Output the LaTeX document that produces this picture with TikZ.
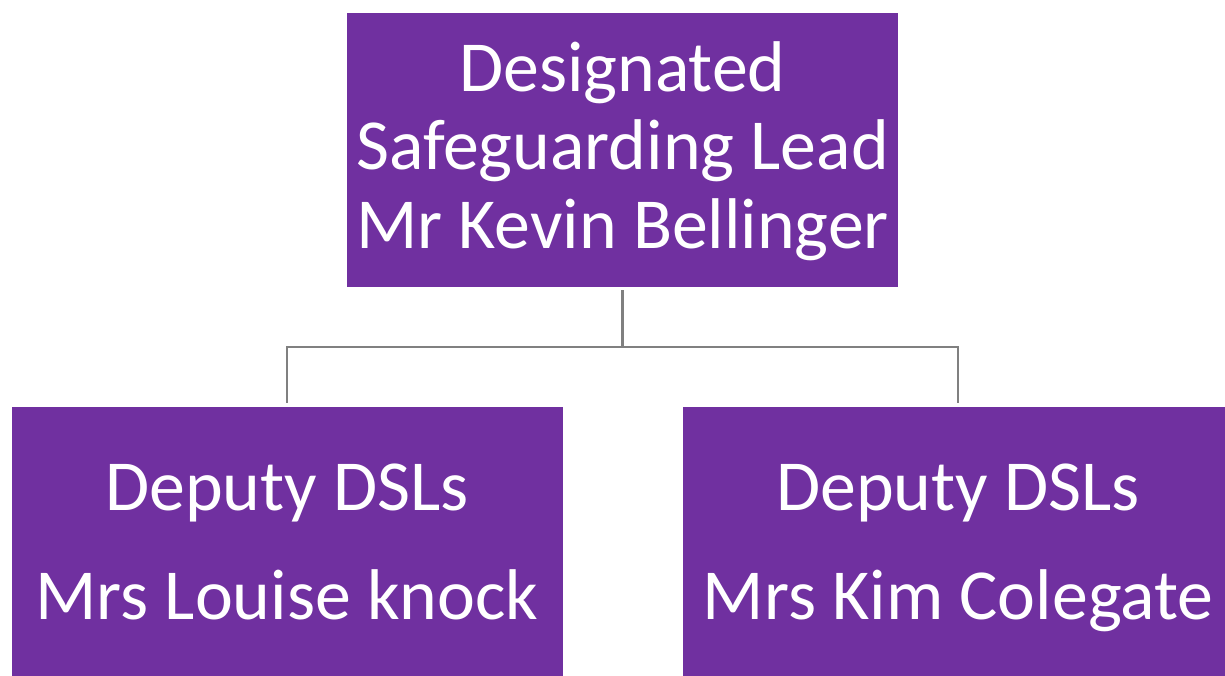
\documentclass[tikz,border=0pt]{standalone}
\usepackage{fontspec}
\setmainfont{Carlito}
\usetikzlibrary{calc}
\definecolor{dslpurple}{HTML}{7030A0}
\definecolor{linkgrey}{HTML}{808080}
% invisible line box: height above, depth below the baseline
\newcommand{\linebox}[2]{\rule[-#2]{0pt}{\dimexpr#1+#2\relax}}
\newcommand{\topline}{\linebox{55pt}{16pt}}
\newcommand{\lowline}{\linebox{76pt}{31pt}}

\begin{document}
\begin{tikzpicture}[x=1pt, y=-1pt,
    rolebox/.style={rectangle, fill=dslpurple, text=white, inner sep=0pt, align=center, minimum width=551pt},
    link/.style={draw=linkgrey, line width=2.6pt, shorten <=3pt, shorten >=4pt}]
      \useasboundingbox (0,0) rectangle (1225,675);
      \clip (0,0) rectangle (1225,675);
      \node[rolebox, minimum height=274pt, font=\fontsize{71.8}{78.5}\selectfont] (dsl) at (622.5,150)
        {\topline Designated\\\topline Safeguarding Lead\\\topline Mr Kevin Bellinger};
      \node[rolebox, minimum height=270pt, font=\fontsize{71.8}{109}\selectfont] (depl) at (287,542)
        {\lowline Deputy DSLs\\\lowline Mrs Louise knock};
      \node[rolebox, minimum height=270pt, font=\fontsize{71.8}{109}\selectfont] (depr) at (958,542)
        {\lowline Deputy DSLs\\\lowline Mrs Kim Colegate};

      \coordinate (split) at ($(dsl.south)!0.5!(dsl.south |- depl.north)$);
      \draw[link] (dsl.south) -- (split) -| (depl.north);
      \draw[link] (dsl.south) -- (split) -| (depr.north);
    \end{tikzpicture}
\end{document}
